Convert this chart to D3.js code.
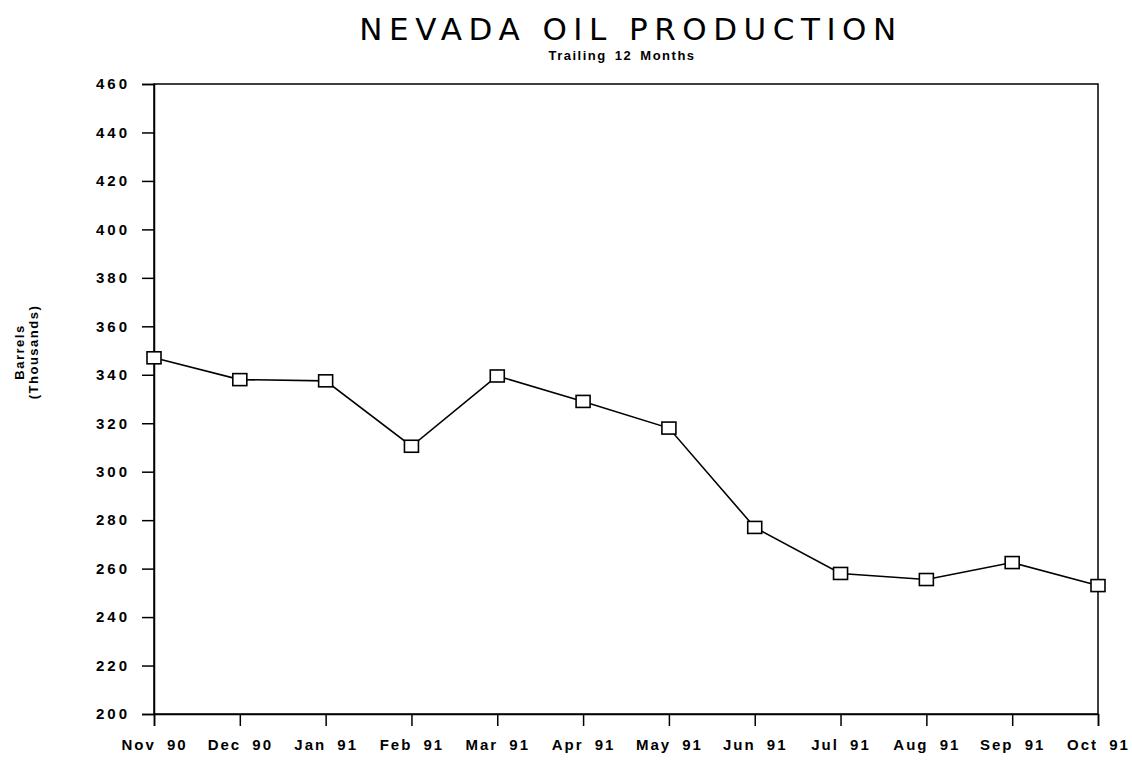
<!DOCTYPE html>
<html>
<head>
<meta charset="utf-8">
<script src="https://cdn.jsdelivr.net/npm/d3@7/dist/d3.min.js"></script>
<style>
  html, body { margin: 0; padding: 0; background: #fff; }
  svg { display: block; }
  text { font-family: "DejaVu Sans", sans-serif; fill: #000; }
</style>
</head>
<body>
<svg id="chart" width="1132" height="761"></svg>
<script>
const months = ["Nov 90","Dec 90","Jan 91","Feb 91","Mar 91","Apr 91","May 91","Jun 91","Jul 91","Aug 91","Sep 91","Oct 91"];
const barrels = [347, 338, 337.5, 310.5, 339.5, 329, 318, 277, 258, 255.5, 262.5, 253];
const yTicks = [200,220,240,260,280,300,320,340,360,380,400,420,440,460];
const titleText = "NEVADA OIL PRODUCTION";
const subtitleText = "Trailing 12 Months";
const yLabelLines = ["Barrels", "(Thousands)"];

const svg = d3.select("#chart");
const pLeft = 154, pRight = 1098, pTop = 84, pBottom = 714;

const x = d3.scalePoint().domain(months).range([pLeft, pRight]);
const y = d3.scaleLinear().domain([200, 460]).range([pBottom, pTop]);

// frame
svg.append("rect").attr("x", pLeft).attr("y", pTop)
  .attr("width", pRight - pLeft).attr("height", pBottom - pTop)
  .attr("fill", "none").attr("stroke", "#000").attr("stroke-width", 1.5);

// y axis
const yAxis = svg.append("g").attr("transform", `translate(${pLeft},0)`)
  .call(d3.axisLeft(y).tickValues(yTicks).tickSize(12).tickPadding(12).tickFormat(d3.format("d")));
yAxis.select(".domain").attr("stroke-width", 1.5);
yAxis.selectAll(".tick line").attr("stroke-width", 1.5);
yAxis.selectAll("text").style("font-size", "15px").style("font-weight", "bold")
  .style("font-family", "'Liberation Sans', sans-serif").style("letter-spacing", "3px");

// x axis
const xAxis = svg.append("g").attr("transform", `translate(0,${pBottom})`)
  .call(d3.axisBottom(x).tickSize(12).tickPadding(13));
xAxis.select(".domain").attr("stroke-width", 1.5);
xAxis.selectAll(".tick line").attr("stroke-width", 1.5);
xAxis.selectAll("text").style("font-size", "15px").style("font-weight", "bold")
  .style("font-family", "'Liberation Sans', sans-serif")
  .style("letter-spacing", "2px").style("word-spacing", "5px");

// line
const line = d3.line().x((d, i) => x(months[i])).y(d => y(d));
svg.append("path").datum(barrels).attr("d", line)
  .attr("fill", "none").attr("stroke", "#000").attr("stroke-width", 1.6);

// markers
svg.selectAll("rect.mk").data(barrels).enter().append("rect")
  .attr("class", "mk")
  .attr("x", (d, i) => x(months[i]) - 7)
  .attr("y", d => y(d) - 6)
  .attr("width", 14).attr("height", 12)
  .attr("fill", "#fff").attr("stroke", "#000").attr("stroke-width", 1.6);

// title
svg.append("text").attr("x", 631).attr("y", 40).attr("text-anchor", "middle")
  .style("font-size", "31px").style("letter-spacing", "6.5px")
  .style("font-family", "'DejaVu Sans', sans-serif").style("font-weight", "normal")
  .text(titleText);
svg.append("text").attr("x", 622).attr("y", 60).attr("text-anchor", "middle")
  .style("font-size", "13px").style("font-weight", "bold")
  .style("font-family", "'Liberation Sans', sans-serif").style("letter-spacing", "1.5px")
  .style("word-spacing", "3px")
  .text(subtitleText);

// y label
const yl = svg.append("text").attr("transform", "translate(24,352) rotate(-90)")
  .attr("text-anchor", "middle")
  .style("font-size", "13px").style("font-weight", "bold")
  .style("font-family", "'Liberation Sans', sans-serif").style("letter-spacing", "1.5px");
yl.selectAll("tspan").data(yLabelLines).enter().append("tspan")
  .attr("x", 0).attr("dy", (d, i) => i === 0 ? 0 : 14).text(d => d);
</script>
</body>
</html>
